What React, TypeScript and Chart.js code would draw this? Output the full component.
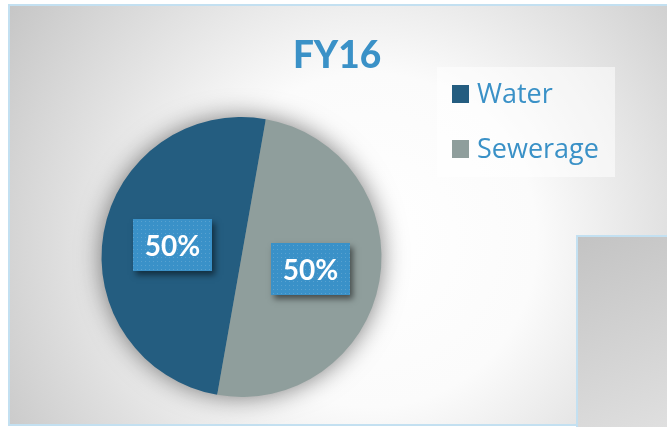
import React, { useEffect, useRef } from "react";
import { Chart, registerables } from "chart.js";
Chart.register(...registerables);

const TITLE = "FY16";
const categories = ["Water", "Sewerage"];
const values = [50, 50];
const colors = ["#245d80", "#8f9e9c"];

const TEXT_BLUE = "#3a91c7";
const FONT = "Lato, 'Open Sans', sans-serif";
const LEGEND_FONT = "'Open Sans', Lato, sans-serif";

export default function App() {
  const ref = useRef<HTMLCanvasElement>(null);
  useEffect(() => {
    document.body.style.margin = "0";
    const canvas = ref.current!;

    const decor = {
      id: "decor",
      beforeDraw(chart: any) {
        const ctx: CanvasRenderingContext2D = chart.ctx;
        const W = chart.width, H = chart.height;
        ctx.save();
        ctx.fillStyle = "#ffffff";
        ctx.fillRect(0, 0, W, H);
        // background radial gradient
        const g = ctx.createRadialGradient(370, 240, 0, 370, 240, 440);
        g.addColorStop(0, "#ffffff");
        g.addColorStop(0.38, "#fbfbfb");
        g.addColorStop(1, "#c4c4c4");
        ctx.fillStyle = g;
        ctx.fillRect(9, 5, W - 9, 420);
        // outer border
        ctx.strokeStyle = "#c3e0f1";
        ctx.lineWidth = 2;
        ctx.beginPath();
        ctx.moveTo(W + 2, 5);
        ctx.lineTo(9, 5);
        ctx.lineTo(9, 425);
        ctx.lineTo(W + 2, 425);
        ctx.stroke();
        // grey overlapping panel bottom-right
        const lg = ctx.createLinearGradient(577, 236, 667, 427);
        lg.addColorStop(0, "#c3c3c3");
        lg.addColorStop(1, "#dfdfdf");
        ctx.fillStyle = lg;
        ctx.fillRect(577, 236, W - 577, H - 236);
        ctx.beginPath();
        ctx.moveTo(577, H + 2);
        ctx.lineTo(577, 236);
        ctx.lineTo(W + 2, 236);
        ctx.stroke();
        // title
        ctx.fillStyle = TEXT_BLUE;
        ctx.font = `900 37px ${FONT}`;
        ctx.textAlign = "center";
        ctx.textBaseline = "alphabetic";
        ctx.fillText(TITLE, 337, 68);
        // legend box
        ctx.fillStyle = "rgba(255,255,255,0.55)";
        ctx.fillRect(437, 67, 178, 110);
        const ds = chart.data.datasets[0];
        chart.data.labels.forEach((lab: string, i: number) => {
          const y = 85 + i * 55;
          ctx.fillStyle = ds.backgroundColor[i];
          ctx.fillRect(452, y, 17, 18);
          ctx.fillStyle = TEXT_BLUE;
          ctx.font = `27px ${LEGEND_FONT}`;
          ctx.textAlign = "left";
          ctx.fillText(lab, 477, y + 18);
        });
        ctx.restore();
      },
      beforeDatasetsDraw(chart: any) {
        const arc = chart.getDatasetMeta(0).data[0];
        if (!arc) return;
        const ctx: CanvasRenderingContext2D = chart.ctx;
        ctx.save();
        ctx.shadowColor = "rgba(0,0,0,0.55)";
        ctx.shadowBlur = 26;
        ctx.fillStyle = "#5a7a8a";
        ctx.beginPath();
        ctx.arc(arc.x, arc.y, arc.outerRadius - 1, 0, Math.PI * 2);
        ctx.fill();
        ctx.restore();
      },
      afterDatasetsDraw(chart: any) {
        const ctx: CanvasRenderingContext2D = chart.ctx;
        const meta = chart.getDatasetMeta(0);
        const data: number[] = chart.data.datasets[0].data;
        const total = data.reduce((a, b) => a + b, 0);
        // dotted pattern
        const pc = document.createElement("canvas");
        pc.width = 4;
        pc.height = 4;
        const pctx = pc.getContext("2d")!;
        pctx.fillStyle = "#3a91c8";
        pctx.fillRect(0, 0, 4, 4);
        pctx.fillStyle = "rgba(255,255,255,0.16)";
        pctx.fillRect(1, 1, 1, 1);
        const pattern = ctx.createPattern(pc, "repeat")!;
        meta.data.forEach((el: any, i: number) => {
          const p = el.tooltipPosition();
          const bw = 79, bh = 52;
          const x = Math.round(p.x - bw / 2), y = Math.round(p.y - bh / 2);
          ctx.save();
          ctx.shadowColor = "rgba(0,0,0,0.5)";
          ctx.shadowBlur = 6;
          ctx.shadowOffsetX = 3;
          ctx.shadowOffsetY = 4;
          ctx.fillStyle = "#3a91c8";
          ctx.fillRect(x, y, bw, bh);
          ctx.restore();
          ctx.save();
          ctx.fillStyle = pattern;
          ctx.fillRect(x, y, bw, bh);
          ctx.fillStyle = "#ffffff";
          ctx.font = `bold 28px ${FONT}`;
          ctx.textAlign = "center";
          ctx.textBaseline = "alphabetic";
          const pct = Math.round((data[i] / total) * 100) + "%";
          ctx.fillText(pct, p.x, y + 37);
          ctx.restore();
        });
      },
    };

    const chart = new Chart(canvas, {
      type: "pie",
      data: {
        labels: categories,
        datasets: [
          {
            data: values,
            backgroundColor: colors,
            borderWidth: 0,
            hoverOffset: 0,
          },
        ],
      },
      options: {
        responsive: false,
        animation: false,
        devicePixelRatio: 1,
        rotation: 190,
        events: [],
        layout: { padding: { left: 101, right: 285, top: 117, bottom: 30 } },
        plugins: {
          legend: { display: false },
          title: { display: false },
          tooltip: { enabled: false },
        },
      },
      plugins: [decor],
    });
    return () => chart.destroy();
  }, []);
  return (
    <canvas
      ref={ref}
      width={667}
      height={427}
      style={{ display: "block", width: 667, height: 427 }}
    />
  );
}
